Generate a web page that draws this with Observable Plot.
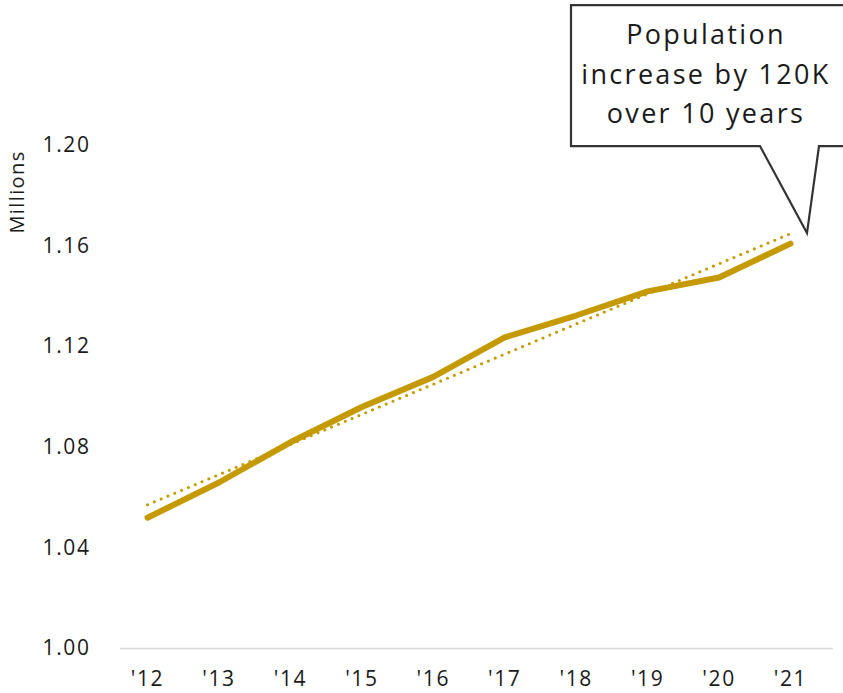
<!DOCTYPE html>
<html>
<head>
<meta charset="utf-8">
<script src="https://cdn.jsdelivr.net/npm/d3@7"></script>
<script src="https://cdn.jsdelivr.net/npm/@observablehq/plot@0.6"></script>
<style>
  html, body { margin: 0; padding: 0; background: #fff; }
  #chart { width: 843px; height: 693px; overflow: hidden; }
</style>
</head>
<body>
<div id="chart"></div>
<script>
const years = [2012, 2013, 2014, 2015, 2016, 2017, 2018, 2019, 2020, 2021];
const population = [1.052, 1.066, 1.082, 1.096, 1.108, 1.1237, 1.1324, 1.142, 1.1475, 1.161];
const yTicks = [1.00, 1.04, 1.08, 1.12, 1.16, 1.20];
const yLabel = "Millions";
const calloutLines = ["Population", "increase by 120K", "over 10 years"];

const gold = "#C49A00";
const data = years.map((year, i) => ({year, value: population[i]}));

const chart = Plot.plot({
  width: 843,
  height: 693,
  marginLeft: 120,
  marginRight: 10,
  marginTop: 145,
  marginBottom: 45,
  style: {fontFamily: "'Open Sans', sans-serif", fontSize: "21px", color: "#1a1a1a", background: "#fff"},
  x: {domain: [2011.622, 2021.602], ticks: years, tickFormat: d => "'" + String(d).slice(2), tickSize: 0, tickPadding: 23, label: null},
  y: {domain: [1.0, 1.2], ticks: yTicks, tickFormat: d => d.toFixed(2), tickSize: 0, tickPadding: 30, label: null},
  marks: [
    Plot.ruleY([1.0], {stroke: "#d9d9d9", strokeWidth: 1.5}),
    Plot.linearRegressionY(data, {x: "year", y: "value", ci: 0, stroke: gold, strokeWidth: 3.2, strokeDasharray: "0,7.4", strokeLinecap: "round"}),
    Plot.line(data, {x: "year", y: "value", stroke: gold, strokeWidth: 6, strokeLinecap: "round", strokeLinejoin: "round"})
  ]
});

document.getElementById("chart").appendChild(chart);

(function () {
  const svg = d3.select(chart);
  svg.selectAll("g[aria-label='y-axis tick label'] text, g[aria-label='x-axis tick label'] text")
    .style("letter-spacing", "1.6px");

  // axis title
  svg.append("text")
    .attr("transform", "translate(24,192) rotate(-90)")
    .attr("text-anchor", "middle")
    .style("font-size", "20px")
    .style("letter-spacing", "1.4px")
    .style("fill", "#1a1a1a")
    .text(yLabel);

  // callout anchored to the last data point
  const xs = chart.scale("x"), ys = chart.scale("y");
  const tipX = xs.apply(years[years.length - 1]) + 17;
  const tipY = ys.apply(population[population.length - 1]) - 10;
  const boxL = tipX - 236, boxR = tipX + 40, boxT = tipY - 228, boxB = tipY - 87;
  const b1 = tipX - 47, b2 = tipX + 12;
  svg.append("path")
    .attr("d", `M${boxL},${boxT}H${boxR}V${boxB}H${b2}L${tipX},${tipY}L${b1},${boxB}H${boxL}Z`)
    .attr("fill", "#fff")
    .attr("stroke", "#333")
    .attr("stroke-width", 2.2)
    .attr("stroke-linejoin", "miter");
  const cx = tipX - 101;
  calloutLines.forEach((t, i) => {
    svg.append("text")
      .attr("x", cx)
      .attr("y", boxT + 39 + i * 39.5)
      .attr("text-anchor", "middle")
      .style("font-size", "27px")
      .style("letter-spacing", "2.3px")
      .style("fill", "#1a1a1a")
      .text(t);
  });
})();
</script>
</body>
</html>
